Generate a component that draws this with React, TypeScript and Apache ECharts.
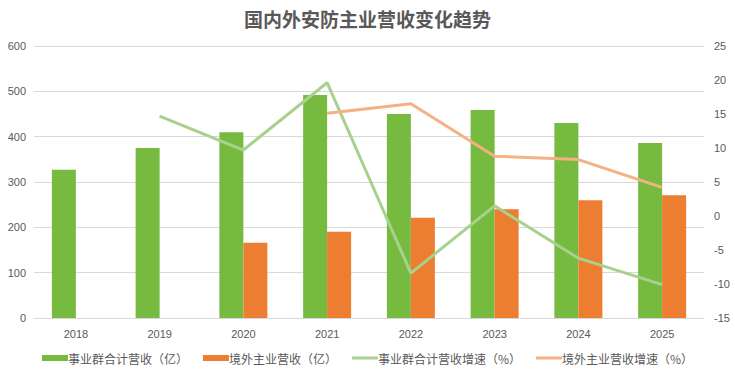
import React, { useEffect, useRef } from "react";
import * as echarts from "echarts";

const categories = ["2018", "2019", "2020", "2021", "2022", "2023", "2024", "2025"];
const groupRevenue = [327, 375, 410, 492, 450, 459, 430, 386];
const overseasRevenue = [null, null, 166, 190, 221, 240, 260, 271];
const groupGrowth = [null, 14.7, 9.7, 19.6, -8.4, 1.5, -6.2, -10.1];
const overseasGrowth = [null, null, null, 15.1, 16.5, 8.8, 8.3, 4.2];

const FONT = "'Liberation Sans', 'Noto Sans CJK SC', sans-serif";
const GRAY = "#595959";
const LINE_ICON = "path://M0,0 H26 V3 H0 Z";

export default function App() {
  const ref = useRef<HTMLDivElement>(null);
  useEffect(() => {
    const chart = echarts.init(ref.current!, null, { renderer: "svg" });
    chart.setOption({
      animation: false,
      backgroundColor: "#fff",
      title: {
        text: "国内外安防主业营收变化趋势",
        left: "center",
        top: 4,
        textStyle: { fontFamily: "'Noto Sans CJK SC', sans-serif", fontSize: 19, fontWeight: "bold", color: GRAY },
      },
      legend: {
        bottom: 6,
        left: "center",
        itemWidth: 26,
        itemHeight: 6,
        itemGap: 15,
        textStyle: { fontFamily: "'Noto Sans CJK SC', sans-serif", fontSize: 12, color: GRAY, padding: [0, 0, 0, -5] },
        data: [
          { name: "事业群合计营收（亿）", icon: "rect" },
          { name: "境外主业营收（亿）", icon: "rect" },
          { name: "事业群合计营收增速（%）", icon: LINE_ICON },
          { name: "境外主业营收增速（%）", icon: LINE_ICON },
        ],
      },
      grid: { left: 34, right: 31, top: 46, bottom: 57 },
      xAxis: {
        type: "category",
        data: categories,
        axisTick: { show: false },
        axisLine: { lineStyle: { color: "#d9d9d9" } },
        axisLabel: { color: GRAY, fontFamily: FONT, fontSize: 11, margin: 10 },
      },
      yAxis: [
        {
          type: "value",
          min: 0,
          max: 600,
          interval: 100,
          splitLine: { lineStyle: { color: "#d9d9d9" } },
          axisLabel: { color: GRAY, fontFamily: FONT, fontSize: 11, margin: 8 },
        },
        {
          type: "value",
          min: -15,
          max: 25,
          interval: 5,
          splitLine: { show: false },
          axisLabel: { color: GRAY, fontFamily: FONT, fontSize: 11, margin: 10 },
        },
      ],
      series: [
        {
          name: "事业群合计营收（亿）",
          type: "bar",
          data: groupRevenue,
          barWidth: 24,
          barGap: "0%",
          itemStyle: { color: "#76bb40" },
        },
        {
          name: "境外主业营收（亿）",
          type: "bar",
          data: overseasRevenue,
          barWidth: 24,
          barGap: "0%",
          itemStyle: { color: "#ed7d31" },
        },
        {
          name: "事业群合计营收增速（%）",
          type: "line",
          yAxisIndex: 1,
          data: groupGrowth,
          symbol: "none",
          lineStyle: { color: "#a9d18e", width: 3 },
          itemStyle: { color: "#a9d18e" },
        },
        {
          name: "境外主业营收增速（%）",
          type: "line",
          yAxisIndex: 1,
          data: overseasGrowth,
          symbol: "none",
          lineStyle: { color: "#f4b183", width: 3 },
          itemStyle: { color: "#f4b183" },
        },
      ],
    });
    return () => chart.dispose();
  }, []);
  return <div ref={ref} style={{ width: 735, height: 375, position: "absolute", left: 0, top: 0 }} />;
}
